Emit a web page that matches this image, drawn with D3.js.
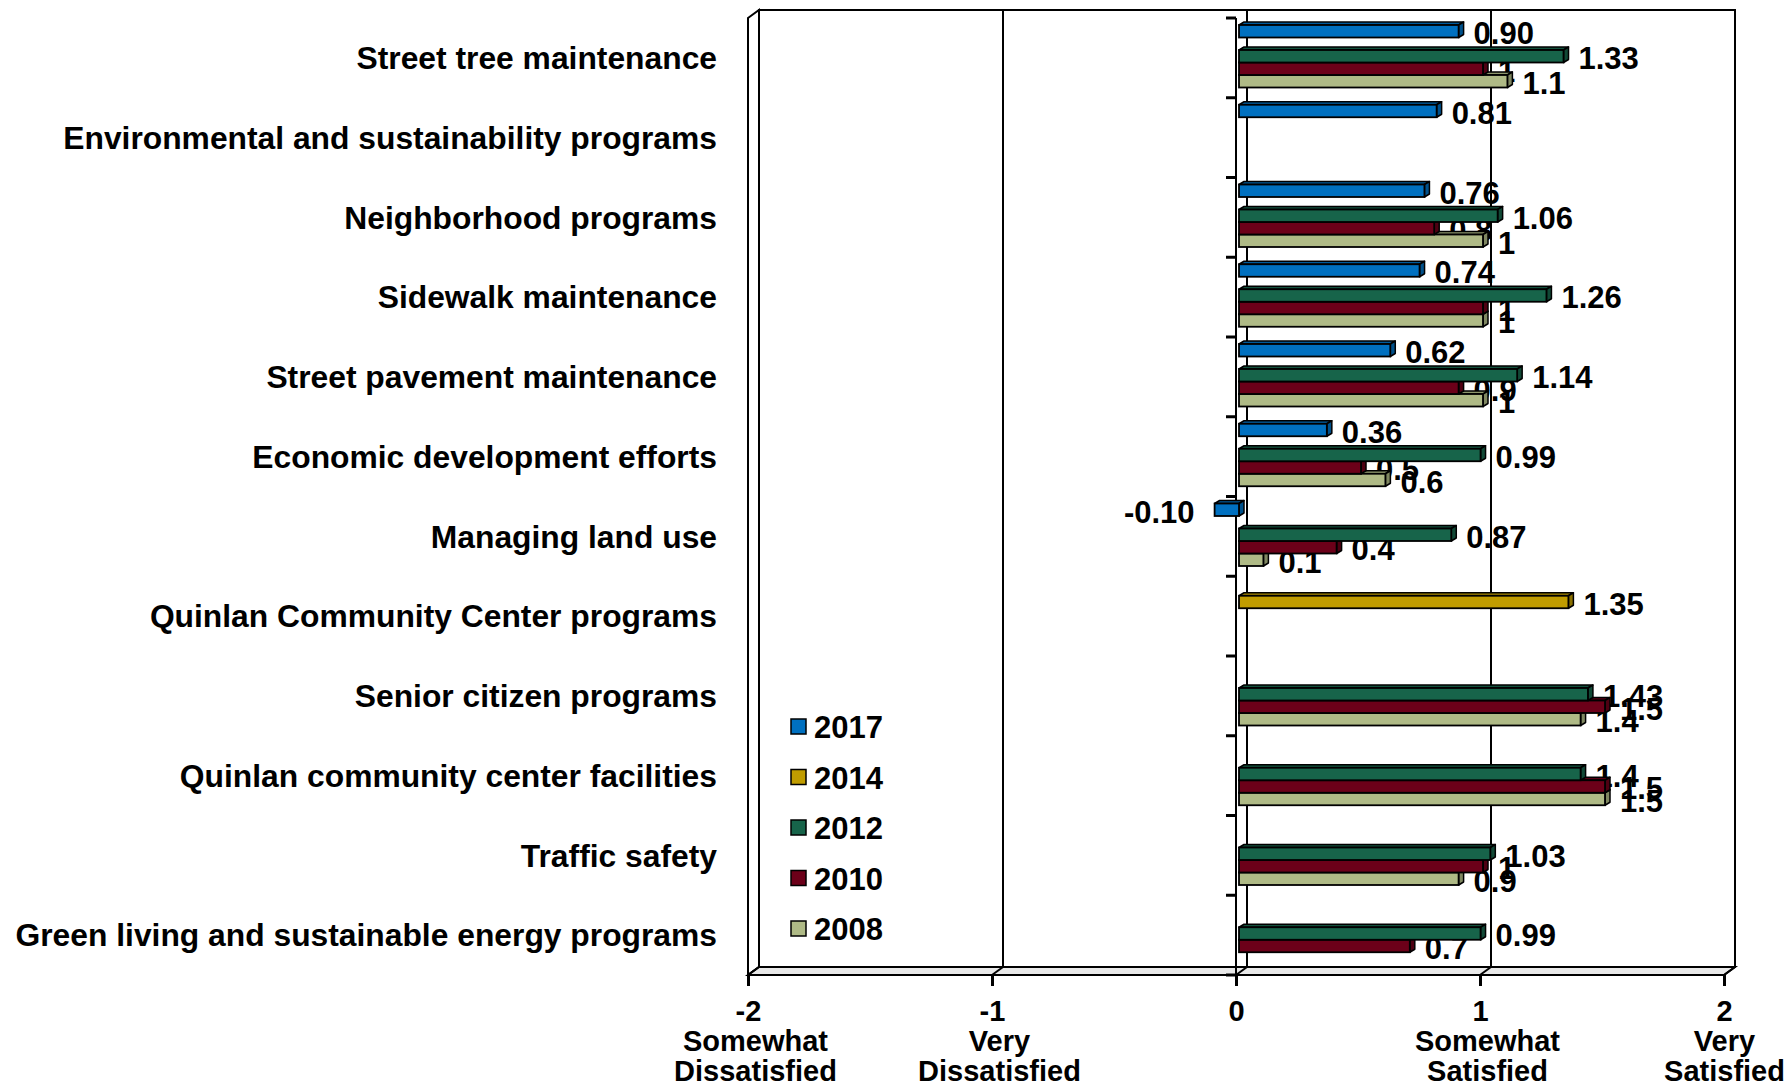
<!DOCTYPE html>
<html>
<head>
<meta charset="utf-8">
<script src="https://cdn.jsdelivr.net/npm/d3@7"></script>
<style>
  html, body { margin: 0; padding: 0; background: #fff; }
  svg { display: block; }
  text { font-family: "Liberation Sans", Arial, sans-serif; font-weight: bold; fill: #000; }
</style>
</head>
<body>
<svg id="chart" width="1788" height="1089"></svg>
<script>
// ---------- DATA ----------
const categories = [
  "Street tree maintenance",
  "Environmental and sustainability programs",
  "Neighborhood programs",
  "Sidewalk maintenance",
  "Street pavement maintenance",
  "Economic development efforts",
  "Managing land use",
  "Quinlan Community Center programs",
  "Senior citizen programs",
  "Quinlan community center facilities",
  "Traffic safety",
  "Green living and sustainable energy programs"
];
const seriesNames = ["2017", "2014", "2012", "2010", "2008"];
const values2017 = [0.90, 0.81, 0.76, 0.74, 0.62, 0.36, -0.10, null, null, null, null, null];
const values2014 = [null, null, null, null, null, null, null, 1.35, null, null, null, null];
const values2012 = [1.33, null, 1.06, 1.26, 1.14, 0.99, 0.87, null, 1.43, 1.4, 1.03, 0.99];
const values2010 = [1, null, 0.8, 1, 0.9, 0.5, 0.4, null, 1.5, 1.5, 1, 0.7];
const values2008 = [1.1, null, 1, 1, 1, 0.6, 0.1, null, 1.4, 1.5, 0.9, null];
const seriesColors = ["#0070C0", "#C09C00", "#17644A", "#6C0019", "#AFBA86"];
const labelDecimals = [2, null, null, null, null];
const tickValues = [-2, -1, 0, 1, 2];
const tickLines = [["-2", "Somewhat", "Dissatisfied"], ["-1", "Very", "Dissatisfied"], ["0"], ["1", "Somewhat", "Satisfied"], ["2", "Very", "Satisfied"]];

const seriesValues = [values2017, values2014, values2012, values2010, values2008];

// ---------- LAYOUT ----------
const svg = d3.select("#chart");
const DX = 11, DY = -8;           // wall depth offset
const BDX = 5, BDY = -3;          // bar depth offset
const yTop = 18, yBot = 975;

const x = d3.scaleLinear().domain([-2, 2]).range([748, 1724]);
const xBar = d3.scaleLinear().domain([-2, 2]).range([751, 1727]);
const y = d3.scaleBand().domain(categories).range([yTop, yBot]).padding(0);
const ys = d3.scaleBand().domain(seriesNames).range([7, 69.5]).padding(0);

const g = svg.append("g");

// back wall
g.append("rect")
  .attr("x", x(-2) + DX).attr("y", yTop + DY)
  .attr("width", x(2) - x(-2)).attr("height", yBot - yTop)
  .attr("fill", "#fff").attr("stroke", "#000").attr("stroke-width", 2);

// left side wall
g.append("path")
  .attr("d", `M${x(-2)},${yTop} L${x(-2) + DX},${yTop + DY} L${x(-2) + DX},${yBot + DY} L${x(-2)},${yBot} Z`)
  .attr("fill", "#fff").attr("stroke", "#000").attr("stroke-width", 2);

// floor
g.append("path")
  .attr("d", `M${x(-2)},${yBot} L${x(-2) + DX},${yBot + DY} L${x(2) + DX},${yBot + DY} L${x(2)},${yBot} Z`)
  .attr("fill", "#e8e8e8").attr("stroke", "#000").attr("stroke-width", 2);

// gridlines on back wall + floor slants
tickValues.forEach(t => {
  if (t > -2 && t < 2) {
    g.append("line")
      .attr("x1", x(t) + DX).attr("x2", x(t) + DX)
      .attr("y1", yTop + DY).attr("y2", yBot + DY)
      .attr("stroke", "#000").attr("stroke-width", 2);
  }
  g.append("line")
    .attr("x1", x(t) + DX).attr("y1", yBot + DY)
    .attr("x2", x(t)).attr("y2", yBot)
    .attr("stroke", "#000").attr("stroke-width", 2);
});

// value axis (bottom)
const xAxis = d3.axisBottom(x).tickValues(tickValues).tickSize(11).tickFormat("");
const xAxisG = g.append("g").attr("transform", `translate(0,${yBot})`).call(xAxis);
xAxisG.select(".domain").remove();
xAxisG.selectAll(".tick line").attr("stroke", "#000").attr("stroke-width", 3);
xAxisG.selectAll(".tick").each(function(d, i) {
  const lines = tickLines[i];
  const t = d3.select(this).append("text")
    .attr("text-anchor", "middle").attr("font-size", 29).attr("fill", "#000");
  lines.forEach((ln, k) => {
    t.append("tspan")
      .attr("x", k === 0 ? 0 : (d === 2 ? 0 : 7))
      .attr("y", k === 0 ? 46 : (k === 1 ? 76 : 106))
      .text(ln);
  });
});

// category axis line at 0
g.append("line")
  .attr("x1", x(0)).attr("x2", x(0))
  .attr("y1", yTop).attr("y2", yBot)
  .attr("stroke", "#000").attr("stroke-width", 2);
const bounds = categories.map(c => y(c)).concat([yBot]);
g.selectAll("line.ctick").data(bounds).join("line")
  .attr("class", "ctick")
  .attr("x1", x(0) - 10).attr("x2", x(0))
  .attr("y1", d => d).attr("y2", d => d)
  .attr("stroke", "#000").attr("stroke-width", 3);

// category labels
g.selectAll("text.cat").data(categories).join("text")
  .attr("class", "cat")
  .attr("x", 717)
  .attr("y", d => y(d) + y.bandwidth() / 2)
  .attr("dy", "0.35em")
  .attr("text-anchor", "end")
  .attr("font-size", 31.8)
  .text(d => d);

// flatten bars
const bars = [];
categories.forEach((c, ci) => {
  seriesNames.forEach((s, si) => {
    const v = seriesValues[si][ci];
    if (v !== null && v !== undefined) bars.push({ c, s, si, v });
  });
});

function fmt(d) {
  const dec = labelDecimals[d.si];
  return dec === null ? String(d.v) : d.v.toFixed(dec);
}

// data labels (drawn beneath bars)
g.selectAll("text.lbl").data(bars).join("text")
  .attr("class", "lbl")
  .attr("font-size", 31)
  .attr("x", d => d.v >= 0 ? xBar(d.v) + 15 : xBar(d.v) - 20)
  .attr("y", d => y(d.c) + ys(d.s) + ys.bandwidth() / 2 + 2)
  .attr("dy", "0.35em")
  .attr("text-anchor", d => d.v >= 0 ? "start" : "end")
  .text(d => fmt(d));

// bars, drawn from bottom series to top series
const order = bars.slice().sort((a, b) => (b.si - a.si));
const barG = g.append("g");
order.forEach(d => {
  const x0 = Math.min(xBar(0), xBar(d.v));
  const x1 = Math.max(xBar(0), xBar(d.v));
  const y0 = y(d.c) + ys(d.s);
  const h = ys.bandwidth();
  const col = d3.color(seriesColors[d.si]);
  const bg = barG.append("g");
  // top face
  bg.append("path")
    .attr("d", `M${x0},${y0} L${x0 + BDX},${y0 + BDY} L${x1 + BDX},${y0 + BDY} L${x1},${y0} Z`)
    .attr("fill", col.darker(0.6)).attr("stroke", "#000").attr("stroke-width", 1.5).attr("stroke-linejoin", "round");
  // end face
  bg.append("path")
    .attr("d", `M${x1},${y0} L${x1 + BDX},${y0 + BDY} L${x1 + BDX},${y0 + h + BDY} L${x1},${y0 + h} Z`)
    .attr("fill", col.darker(0.9)).attr("stroke", "#000").attr("stroke-width", 1.5).attr("stroke-linejoin", "round");
  // front face
  bg.append("rect")
    .attr("x", x0).attr("y", y0).attr("width", x1 - x0).attr("height", h)
    .attr("fill", col).attr("stroke", "#000").attr("stroke-width", 1.8);
});

// legend
const legend = g.append("g");
seriesNames.forEach((s, i) => {
  const ly = 727 + i * 50.5;
  legend.append("rect")
    .attr("x", 791).attr("y", ly - 8).attr("width", 15).attr("height", 15)
    .attr("fill", seriesColors[i]).attr("stroke", "#000").attr("stroke-width", 1.5);
  legend.append("text")
    .attr("x", 814).attr("y", ly).attr("dy", "0.36em")
    .attr("font-size", 31).text(s);
});
</script>
</body>
</html>
